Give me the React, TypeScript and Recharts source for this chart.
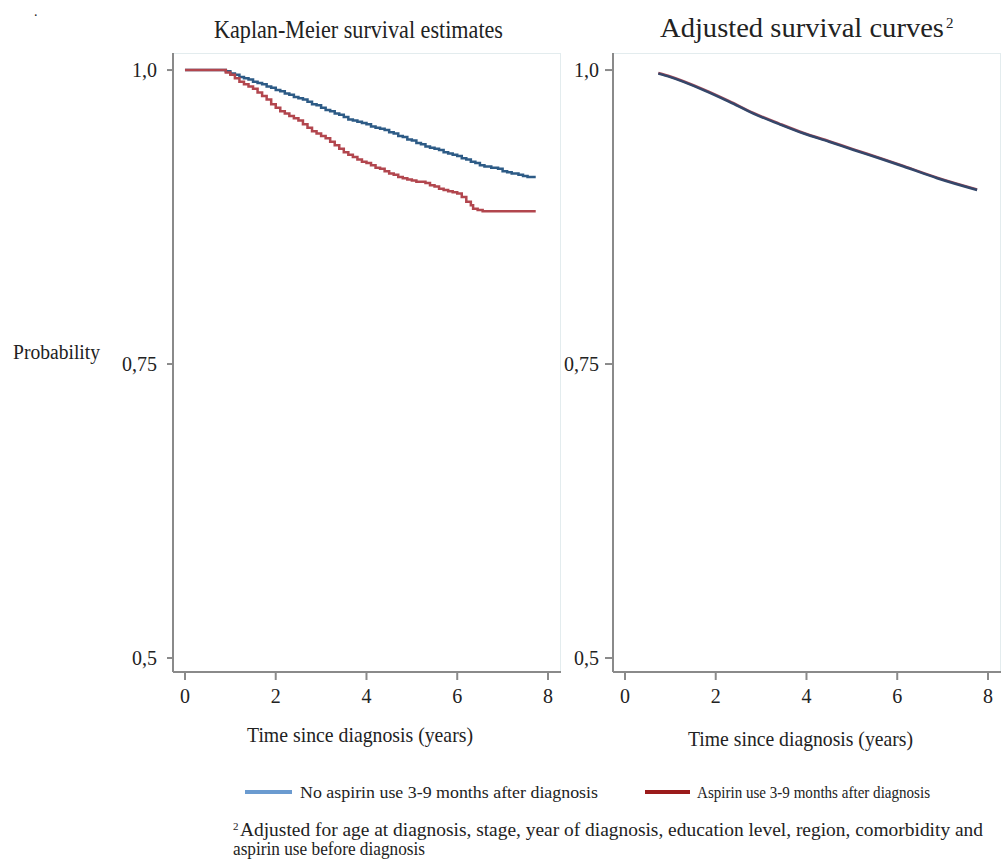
import React from "react";
import { LineChart, Line, XAxis, YAxis, ReferenceLine } from "recharts";

const serif = "'Liberation Serif', 'Times New Roman', serif";

// Kaplan-Meier estimates (years, survival probability)
const kmNoAspirin = [
  { t: 0, s: 1.0 }, { t: 0.83, s: 1.0 }, { t: 0.9, s: 0.999 }, { t: 1.0, s: 0.997 },
  { t: 1.1, s: 0.996 }, { t: 1.2, s: 0.994 }, { t: 1.3, s: 0.993 }, { t: 1.4, s: 0.992 },
  { t: 1.5, s: 0.99 }, { t: 1.6, s: 0.989 }, { t: 1.7, s: 0.988 }, { t: 1.8, s: 0.986 },
  { t: 1.9, s: 0.985 }, { t: 2.0, s: 0.983 }, { t: 2.1, s: 0.982 }, { t: 2.2, s: 0.98 },
  { t: 2.3, s: 0.979 }, { t: 2.4, s: 0.977 }, { t: 2.5, s: 0.976 }, { t: 2.6, s: 0.975 },
  { t: 2.7, s: 0.973 }, { t: 2.8, s: 0.971 }, { t: 2.9, s: 0.97 }, { t: 3.0, s: 0.968 },
  { t: 3.1, s: 0.966 }, { t: 3.2, s: 0.965 }, { t: 3.3, s: 0.963 }, { t: 3.4, s: 0.962 },
  { t: 3.5, s: 0.96 }, { t: 3.6, s: 0.958 }, { t: 3.7, s: 0.957 }, { t: 3.8, s: 0.956 },
  { t: 3.9, s: 0.955 }, { t: 4.0, s: 0.954 }, { t: 4.1, s: 0.952 }, { t: 4.2, s: 0.951 },
  { t: 4.3, s: 0.95 }, { t: 4.4, s: 0.949 }, { t: 4.5, s: 0.947 }, { t: 4.6, s: 0.946 },
  { t: 4.7, s: 0.944 }, { t: 4.8, s: 0.943 }, { t: 4.9, s: 0.941 }, { t: 5.0, s: 0.94 },
  { t: 5.1, s: 0.938 }, { t: 5.2, s: 0.937 }, { t: 5.3, s: 0.935 }, { t: 5.4, s: 0.934 },
  { t: 5.5, s: 0.933 }, { t: 5.6, s: 0.932 }, { t: 5.7, s: 0.93 }, { t: 5.8, s: 0.929 },
  { t: 5.9, s: 0.928 }, { t: 6.0, s: 0.927 }, { t: 6.1, s: 0.925 }, { t: 6.2, s: 0.924 },
  { t: 6.3, s: 0.922 }, { t: 6.4, s: 0.921 }, { t: 6.5, s: 0.919 }, { t: 6.6, s: 0.918 },
  { t: 6.75, s: 0.917 }, { t: 6.9, s: 0.916 }, { t: 7.0, s: 0.914 }, { t: 7.1, s: 0.913 },
  { t: 7.2, s: 0.912 }, { t: 7.35, s: 0.911 }, { t: 7.45, s: 0.91 }, { t: 7.55, s: 0.909 },
  { t: 7.73, s: 0.909 },
];

const kmAspirin = [
  { t: 0, s: 1.0 }, { t: 0.83, s: 1.0 }, { t: 0.9, s: 0.998 }, { t: 1.0, s: 0.996 },
  { t: 1.1, s: 0.993 }, { t: 1.2, s: 0.99 }, { t: 1.3, s: 0.988 }, { t: 1.4, s: 0.986 },
  { t: 1.5, s: 0.984 }, { t: 1.6, s: 0.981 }, { t: 1.7, s: 0.978 }, { t: 1.8, s: 0.975 },
  { t: 1.9, s: 0.971 }, { t: 2.0, s: 0.968 }, { t: 2.1, s: 0.965 }, { t: 2.2, s: 0.963 },
  { t: 2.3, s: 0.961 }, { t: 2.4, s: 0.959 }, { t: 2.5, s: 0.957 }, { t: 2.6, s: 0.954 },
  { t: 2.7, s: 0.951 }, { t: 2.8, s: 0.948 }, { t: 2.9, s: 0.946 }, { t: 3.0, s: 0.944 },
  { t: 3.1, s: 0.942 }, { t: 3.2, s: 0.939 }, { t: 3.3, s: 0.936 }, { t: 3.4, s: 0.933 },
  { t: 3.5, s: 0.93 }, { t: 3.6, s: 0.928 }, { t: 3.7, s: 0.926 }, { t: 3.8, s: 0.924 },
  { t: 3.9, s: 0.922 }, { t: 4.0, s: 0.921 }, { t: 4.1, s: 0.919 }, { t: 4.2, s: 0.917 },
  { t: 4.3, s: 0.916 }, { t: 4.4, s: 0.914 }, { t: 4.5, s: 0.912 }, { t: 4.6, s: 0.911 },
  { t: 4.7, s: 0.909 }, { t: 4.8, s: 0.908 }, { t: 4.9, s: 0.907 }, { t: 5.0, s: 0.906 },
  { t: 5.1, s: 0.905 }, { t: 5.2, s: 0.905 }, { t: 5.3, s: 0.904 }, { t: 5.4, s: 0.902 },
  { t: 5.5, s: 0.901 }, { t: 5.6, s: 0.899 }, { t: 5.7, s: 0.898 }, { t: 5.8, s: 0.897 },
  { t: 5.9, s: 0.896 }, { t: 6.0, s: 0.895 }, { t: 6.1, s: 0.892 }, { t: 6.2, s: 0.888 },
  { t: 6.3, s: 0.885 }, { t: 6.35, s: 0.882 }, { t: 6.45, s: 0.881 }, { t: 6.56, s: 0.88 },
  { t: 7.73, s: 0.88 },
];

// Adjusted survival curves (the two groups overlap almost exactly)
const adjNoAspirin = [
  { t: 0.735, s: 0.997 }, { t: 1.0, s: 0.994 }, { t: 1.73, s: 0.983 }, { t: 2.3, s: 0.973 },
  { t: 2.83, s: 0.963 }, { t: 3.4, s: 0.954 }, { t: 3.94, s: 0.946 }, { t: 4.5, s: 0.939 },
  { t: 5.04, s: 0.932 }, { t: 5.6, s: 0.925 }, { t: 6.14, s: 0.918 }, { t: 6.88, s: 0.908 },
  { t: 7.76, s: 0.898 },
];

const adjAspirin = [
  { t: 0.735, s: 0.9975 }, { t: 1.0, s: 0.9945 }, { t: 1.73, s: 0.9835 }, { t: 2.3, s: 0.9735 },
  { t: 2.83, s: 0.9635 }, { t: 3.4, s: 0.9545 }, { t: 3.94, s: 0.9465 }, { t: 4.5, s: 0.9395 },
  { t: 5.04, s: 0.9325 }, { t: 5.6, s: 0.9255 }, { t: 6.14, s: 0.9185 }, { t: 6.88, s: 0.9085 },
  { t: 7.76, s: 0.8985 },
];

const xTicks = [0, 2, 4, 6, 8];
const yTicks = [0.5, 0.75, 1.0];
const yTickLabels = ["0,5", "0,75", "1,0"];

const legendLabels = [
  "No aspirin use 3-9 months after diagnosis",
  "Aspirin use 3-9 months after diagnosis",
];

const X_DOMAIN: [number, number] = [-0.264, 8.287];
const Y_DOMAIN: [number, number] = [0.4881, 1.0145];

const axisStroke = "#8a8a8a";
const tickStyle = { fill: "#222", fontSize: 20, fontFamily: serif };

function yFmt(v: number) {
  const i = yTicks.indexOf(v);
  return i >= 0 ? yTickLabels[i] : String(v);
}

function Panel({
  left,
  series,
  ySize,
  yMargin,
}: {
  left: number;
  series: { data: { t: number; s: number }[]; color: string; type: "stepAfter" | "monotone"; width: number }[];
  ySize: number;
  yMargin: number;
}) {
  return (
    <div style={{ position: "absolute", left, top: 53 }}>
      <LineChart width={448} height={659} margin={{ top: 0, right: 0, bottom: 0, left: 0 }}>
        <XAxis
          type="number"
          dataKey="t"
          domain={X_DOMAIN}
          ticks={xTicks}
          allowDataOverflow
          height={40}
          stroke={axisStroke}
          strokeWidth={2}
          tickSize={8}
          tickMargin={9}
          tick={tickStyle}
        />
        <YAxis
          type="number"
          dataKey="s"
          domain={Y_DOMAIN}
          ticks={yTicks}
          allowDataOverflow
          width={60}
          stroke={axisStroke}
          strokeWidth={2}
          tickSize={ySize}
          tickMargin={yMargin}
          tick={tickStyle}
          tickFormatter={yFmt}
        />
        <ReferenceLine y={Y_DOMAIN[1]} stroke="#e3ecee" strokeWidth={2} />
        <ReferenceLine x={X_DOMAIN[1]} stroke="#e3ecee" strokeWidth={2} />
        {series.map((sr, i) => (
          <Line
            key={i}
            data={sr.data}
            dataKey="s"
            type={sr.type}
            stroke={sr.color}
            strokeWidth={sr.width}
            dot={false}
            activeDot={false}
            isAnimationActive={false}
          />
        ))}
      </LineChart>
    </div>
  );
}

export default function App() {
  return (
    <div style={{ position: "absolute", left: 0, top: 0, width: 1003, height: 863, background: "#fff" }}>
      <Panel
        left={113}
        ySize={6}
        yMargin={10}
        series={[
          { data: kmNoAspirin, color: "#2d5b86", type: "stepAfter", width: 2.5 },
          { data: kmAspirin, color: "#b2464e", type: "stepAfter", width: 2.5 },
        ]}
      />
      <Panel
        left={553}
        ySize={8}
        yMargin={6}
        series={[
          { data: adjAspirin, color: "#a04a5a", type: "monotone", width: 2.5 },
          { data: adjNoAspirin, color: "#34476a", type: "monotone", width: 2.5 },
        ]}
      />
      <svg
        width={1003}
        height={863}
        style={{ position: "absolute", left: 0, top: 0, pointerEvents: "none" }}
        fontFamily={serif}
        fill="#222"
      >
        <text x={34} y={16} fontSize={14}>.</text>
        <text x={214} y={38} fontSize={26} textLength={289} lengthAdjust="spacingAndGlyphs">
          Kaplan-Meier survival estimates
        </text>
        <text x={660} y={37} fontSize={27} textLength={284} lengthAdjust="spacingAndGlyphs">
          Adjusted survival curves
        </text>
        <text x={946} y={28} fontSize={15}>2</text>
        <text x={13} y={359} fontSize={20} textLength={87} lengthAdjust="spacingAndGlyphs">
          Probability
        </text>
        <text x={247} y={742} fontSize={21} textLength={226} lengthAdjust="spacingAndGlyphs">
          Time since diagnosis (years)
        </text>
        <text x={688} y={746} fontSize={21} textLength={225} lengthAdjust="spacingAndGlyphs">
          Time since diagnosis (years)
        </text>
        <line x1={245} y1={792} x2={292} y2={792} stroke="#6b9bd0" strokeWidth={4} />
        <text x={300} y={798} fontSize={17} textLength={298} lengthAdjust="spacingAndGlyphs">
          {legendLabels[0]}
        </text>
        <line x1={645} y1={792} x2={690} y2={792} stroke="#9b1b1b" strokeWidth={4} />
        <text x={697} y={798} fontSize={17} textLength={233} lengthAdjust="spacingAndGlyphs">
          {legendLabels[1]}
        </text>
        <text x={233} y={830} fontSize={11}>2</text>
        <text x={240} y={836} fontSize={18} textLength={743} lengthAdjust="spacingAndGlyphs">
          Adjusted for age at diagnosis, stage, year of diagnosis, education level, region, comorbidity and
        </text>
        <text x={233} y={855} fontSize={18} textLength={192} lengthAdjust="spacingAndGlyphs">
          aspirin use before diagnosis
        </text>
      </svg>
    </div>
  );
}
